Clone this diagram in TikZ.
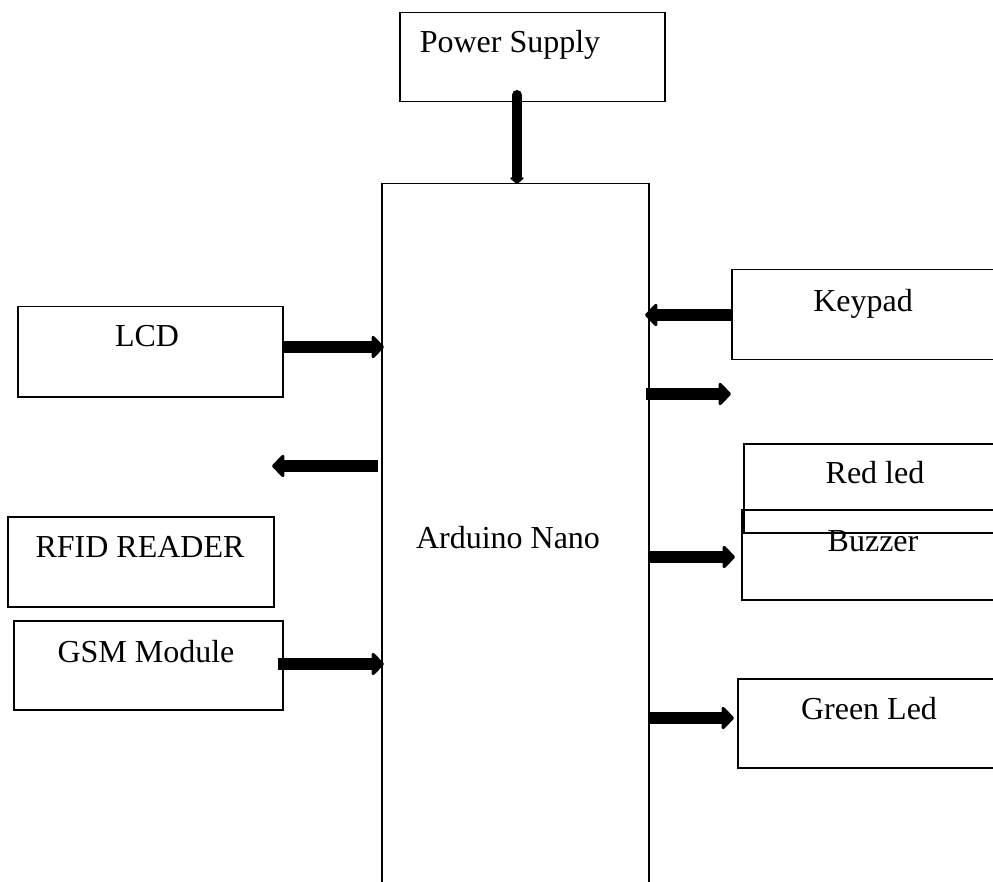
\documentclass[tikz,border=0pt]{standalone}
\usepackage{fontspec}
\setmainfont{Liberation Serif}
\usetikzlibrary{arrows.meta}
\tikzset{
  box/.style={draw=black, line width=1.5pt, rectangle, inner sep=0pt, anchor=north west},
  lbl/.style={anchor=base, inner sep=0pt, font=\fontsize{32}{38}\selectfont},
  bigarrow/.style={line width=12.5pt, line join=round, -{Triangle[width=26pt,length=13pt,line width=3pt,round]}},
  vertarrow/.style={line width=10pt, line cap=round, -{Triangle[width=16pt,length=7pt,line width=2pt,round]}}
}
\begin{document}
\begin{tikzpicture}[x=1pt,y=-1pt]
\clip (0,0) rectangle (993,882);
\fill[white] (0,0) rectangle (993,882);
% boxes
\node[box, minimum width=265pt, minimum height=89pt] (ps) at (399,12) {};
\node[box, minimum width=267pt, minimum height=740pt] (ard) at (381,183) {};
\node[box, minimum width=280pt, minimum height=90pt] (key) at (731,269) {};
\node[box, minimum width=280pt, minimum height=89pt] (red) at (743,443) {};
\node[box, minimum width=280pt, minimum height=90pt] (buz) at (741,509) {};
\node[box, minimum width=280pt, minimum height=89pt] (grn) at (737,678) {};
\node[box, minimum width=265pt, minimum height=90pt] (lcd) at (17,306) {};
\node[box, minimum width=266pt, minimum height=90pt] (rfid) at (7,516) {};
\node[box, minimum width=269pt, minimum height=89pt] (gsm) at (13,620) {};
% labels
\node[lbl] (pst) at (510,53) {Power Supply};
\node[lbl] (ardt) at (508,548) {Arduino Nano};
\node[lbl] (keyt) at (863,312) {Keypad};
\node[lbl] (redt) at (875,483) {Red led};
\node[lbl] (buzt) at (873,551) {Buzzer};
\node[lbl] (grnt) at (869,719) {Green Led};
\node[lbl] (lcdt) at (147,347) {LCD};
\node[lbl] (rfidt) at (140,557) {RFID READER};
\node[lbl] (gsmt) at (146,662) {GSM Module};
% connector anchor points
\coordinate (psA) at (517,95);
\coordinate (psB) at (517,184);
\coordinate (lcdA) at (282,347);
\coordinate (lcdB) at (384,347);
\coordinate (ardL1) at (378,466);
\coordinate (ardL2) at (272,466);
\coordinate (gsmA) at (278,664);
\coordinate (gsmB) at (384,664);
\coordinate (keyA) at (731,315);
\coordinate (keyB) at (645,315);
\coordinate (ardR1) at (646,394);
\coordinate (ardR2) at (731,394);
\coordinate (buzA) at (648,557);
\coordinate (buzB) at (735,557);
\coordinate (grnA) at (648,718);
\coordinate (grnB) at (734,718);
% arrows
\draw[vertarrow] (psA) -- (psB);
\draw[bigarrow] (lcdA) -- (lcdB);
\draw[bigarrow] (ardL1) -- (ardL2);
\draw[bigarrow] (gsmA) -- (gsmB);
\draw[bigarrow] (keyA) -- (keyB);
\draw[bigarrow] (ardR1) -- (ardR2);
\draw[bigarrow] (buzA) -- (buzB);
\draw[bigarrow] (grnA) -- (grnB);
\end{tikzpicture}
\end{document}
